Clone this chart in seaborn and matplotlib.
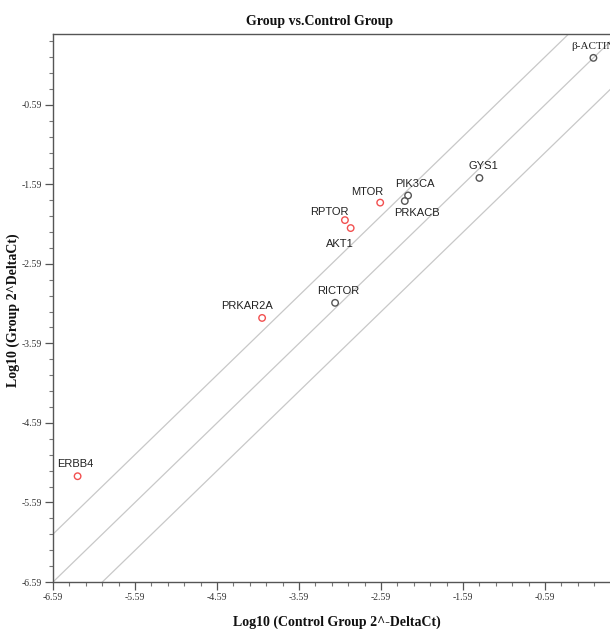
import matplotlib
matplotlib.use("Agg")
import matplotlib.pyplot as plt
import seaborn as sns
import numpy as np
import pandas as pd
from matplotlib.ticker import FixedLocator

sns.set_style("white")

genes = ["β-ACTIN", "GYS1", "PIK3CA", "PRKACB", "MTOR", "RPTOR", "AKT1", "RICTOR", "PRKAR2A", "ERBB4"]
control_log = [0.00, -1.39, -2.26, -2.30, -2.60, -3.03, -2.96, -3.15, -4.04, -6.29]
group_log = [0.00, -1.51, -1.73, -1.80, -1.82, -2.04, -2.14, -3.08, -3.27, -5.26]
status = ["normal", "normal", "normal", "normal", "up", "up", "up", "normal", "up", "up"]
tick_values = [-6.59, -5.59, -4.59, -3.59, -2.59, -1.59, -0.59]
tick_labels = ["-6.59", "-5.59", "-4.59", "-3.59", "-2.59", "-1.59", "-0.59"]
fold_boundary = np.log10(4)

df = pd.DataFrame({"gene": genes, "x": control_log, "y": group_log, "status": status})

# label offsets in points (style, not data)
offsets = {
    "β-ACTIN": (0, 5), "GYS1": (3, 5), "PIK3CA": (5, 5), "PRKACB": (9, -5),
    "MTOR": (-9, 4), "RPTOR": (-11, 2), "AKT1": (-8, -8), "RICTOR": (2, 5),
    "PRKAR2A": (-11, 5), "ERBB4": (-2, 5),
}

fig = plt.figure(figsize=(6.10, 6.29), dpi=100)
ax = fig.add_axes([53/610, 47/629, 565/610, 548/629])
lo, hi = -6.59, 0.30
ax.set_xlim(lo, hi)
ax.set_ylim(lo, hi)

xs = np.array([lo, hi])
for off in (fold_boundary, 0.0, -fold_boundary):
    ax.plot(xs, xs + off, color="#c8c8c8", lw=0.9, zorder=1)

colors = {"up": "#f25050", "normal": "#555555"}
for st, col in colors.items():
    sub = df[df["status"] == st]
    sns.scatterplot(data=sub, x="x", y="y", ax=ax, marker="o", s=22,
                    facecolors="none", edgecolor=col, linewidth=1.0, zorder=3, legend=False)

for g, x, y in zip(genes, control_log, group_log):
    dx, dy = offsets[g]
    fam = ["Liberation Serif"] if g == "β-ACTIN" else ["Liberation Sans", "DejaVu Sans"]
    ax.annotate(g, (x, y), xytext=(dx, dy), textcoords="offset points",
                ha="center", va="bottom" if dy > 0 else "top", fontsize=8,
                color="#222222", family=fam, zorder=4)

for s in ["top", "left", "bottom", "right"]:
    ax.spines[s].set_color("#555555")
    ax.spines[s].set_linewidth(1.0)

ax.xaxis.set_major_locator(FixedLocator(tick_values))
ax.yaxis.set_major_locator(FixedLocator(tick_values))
ax.set_xticklabels(tick_labels)
ax.set_yticklabels(tick_labels)
ax.xaxis.set_minor_locator(FixedLocator(np.arange(lo, hi, 0.2)))
ax.yaxis.set_minor_locator(FixedLocator(np.arange(lo, hi, 0.2)))
ax.tick_params(which="major", direction="out", length=6, width=0.9, color="#555555",
               labelsize=7, labelcolor="#333333", bottom=True, left=True, pad=2)
ax.tick_params(which="minor", direction="out", length=3, width=0.8, color="#777777",
               bottom=True, left=True)
for lab in ax.get_xticklabels() + ax.get_yticklabels():
    lab.set_family("Liberation Serif")
ax.set_xlabel("")
ax.set_ylabel("")

fig.text(320/610, 1 - 21/629, "Group vs.Control Group", ha="center", va="center",
         family="Liberation Serif", fontweight="bold", fontsize=10, color="#111111")
fig.text(337/610, 1 - 622/629, "Log10 (Control Group 2^-DeltaCt)", ha="center", va="center",
         family="Liberation Serif", fontweight="bold", fontsize=10, color="#111111")
fig.text(13/610, 1 - 310/629, "Log10 (Group 2^DeltaCt)", ha="center", va="center", rotation=90,
         family="Liberation Serif", fontweight="bold", fontsize=10, color="#111111")

fig.savefig("out.png", dpi=100)
